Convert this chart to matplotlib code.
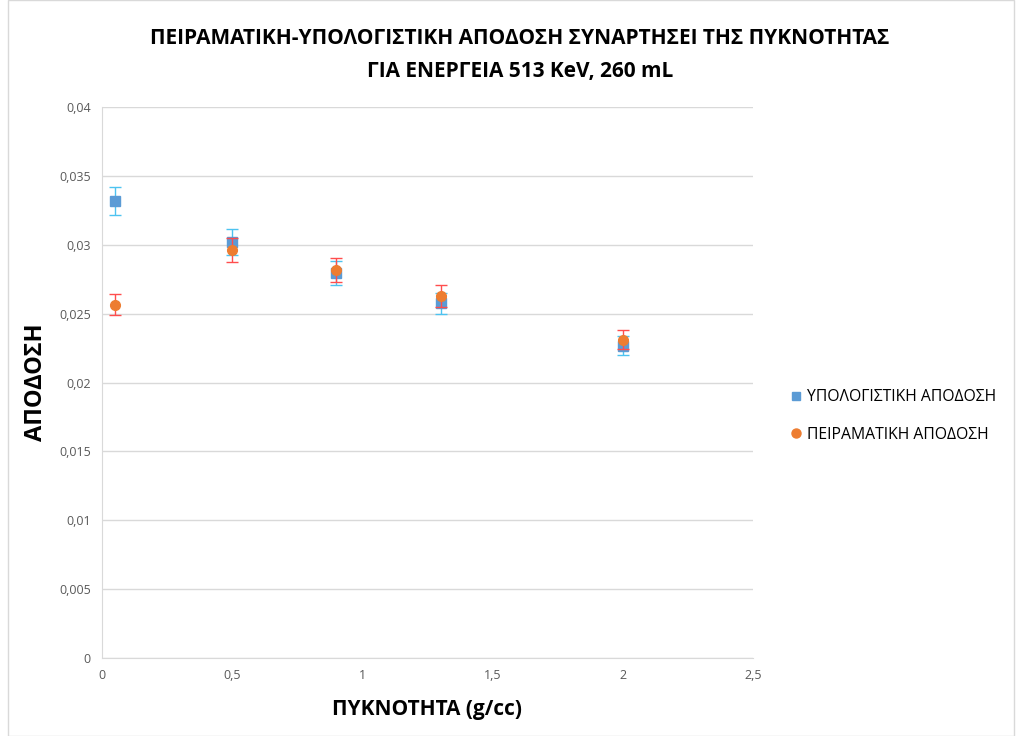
import matplotlib
matplotlib.use("Agg")
import matplotlib.pyplot as plt
from matplotlib.ticker import FuncFormatter, MultipleLocator
from matplotlib.patches import Rectangle
from matplotlib.lines import Line2D

density = [0.05, 0.5, 0.9, 1.3, 2.0]
calc_eff = [0.03318, 0.0302, 0.02795, 0.02575, 0.02267]
calc_err = [0.00100, 0.00091, 0.00084, 0.00077, 0.00068]
exp_eff = [0.02565, 0.02962, 0.02817, 0.0263, 0.02309]
exp_err = [0.00077, 0.00089, 0.00085, 0.00079, 0.00069]

title = "ΠΕΙΡΑΜΑΤΙΚΗ-ΥΠΟΛΟΓΙΣΤΙΚΗ ΑΠΟΔΟΣΗ ΣΥΝΑΡΤΗΣΕΙ ΤΗΣ ΠΥΚΝΟΤΗΤΑΣ\nΓΙΑ ΕΝΕΡΓΕΙΑ 513 KeV, 260 mL"
xlabel = "ΠΥΚΝΟΤΗΤΑ (g/cc)"
ylabel = "ΑΠΟΔΟΣΗ"
labels = ["ΥΠΟΛΟΓΙΣΤΙΚΗ ΑΠΟΔΟΣΗ", "ΠΕΙΡΑΜΑΤΙΚΗ ΑΠΟΔΟΣΗ"]

plt.rcParams['font.family'] = ['Open Sans', 'DejaVu Sans']

W, H = 1022, 736
fig = plt.figure(figsize=(W/100, H/100), dpi=100)
ax = fig.add_axes([102/W, 1-658/H, (753-102)/W, (658-107)/H])

fig.patches.append(Rectangle((8/W, 0.0), 1-16/W, 1.0, transform=fig.transFigure,
                             fill=False, edgecolor='#d9d9d9', linewidth=1))

ax.errorbar(density, calc_eff, yerr=calc_err, fmt='s', color='#5b9bd5', ms=6.5,
            ecolor='#4dc3f0', elinewidth=1, capsize=4, capthick=1, zorder=3)
ax.errorbar(density, exp_eff, yerr=exp_err, fmt='o', color='#ed7d31', ms=7,
            ecolor='#ff4d4d', elinewidth=1, capsize=4, capthick=1, zorder=4)

ax.set_xlim(0, 2.5)
ax.set_ylim(0, 0.04)
ax.xaxis.set_major_locator(MultipleLocator(0.5))
ax.yaxis.set_major_locator(MultipleLocator(0.005))

def fmt(v, pos):
    s = ('%.3f' % v).rstrip('0').rstrip('.')
    if s == '-0':
        s = '0'
    return s.replace('.', ',')

ax.xaxis.set_major_formatter(FuncFormatter(fmt))
ax.yaxis.set_major_formatter(FuncFormatter(fmt))
ax.tick_params(length=0, labelsize=9, colors='#595959', pad=8)
ax.grid(axis='y', color='#d9d9d9', linewidth=1)
ax.set_axisbelow(True)
for s in ['top', 'right']:
    ax.spines[s].set_visible(False)
for s in ['left', 'bottom']:
    ax.spines[s].set_color('#d9d9d9')

ax.set_xlabel(xlabel, fontsize=15, fontweight='bold', labelpad=12)
ax.set_ylabel(ylabel, fontsize=17, fontweight='bold', labelpad=8)
fig.text(520/W, 1-55/H, title, ha='center', va='center', fontsize=15, fontweight='bold', linespacing=1.75)

handles = [Line2D([], [], ls='none', marker='s', color='#5b9bd5', ms=6),
           Line2D([], [], ls='none', marker='o', color='#ed7d31', ms=6.5)]
leg = fig.legend(handles, labels, loc='center left', bbox_to_anchor=(772/W, 1-416/H), frameon=False,
                 fontsize=11.3, handletextpad=0.1, labelspacing=1.4, handlelength=1.2)

fig.savefig('out.png', dpi=100)
